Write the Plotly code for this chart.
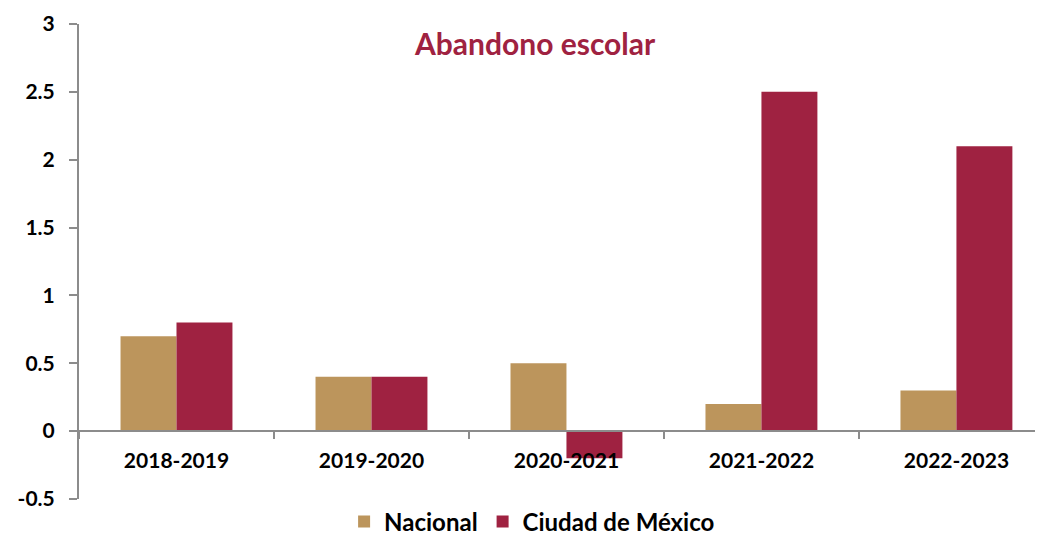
import plotly.graph_objects as go

categories = ["2018-2019", "2019-2020", "2020-2021", "2021-2022", "2022-2023"]
nacional = [0.7, 0.4, 0.5, 0.2, 0.3]
cdmx = [0.8, 0.4, -0.2, 2.5, 2.1]
y_ticks = [-0.5, 0, 0.5, 1, 1.5, 2, 2.5, 3]
y_tick_text = ["-0.5", "0", "0.5", "1", "1.5", "2", "2.5", "3"]

GOLD = "#BC955C"
WINE = "#9F2241"
AXIS = "#8C8C8C"
FONT = "Lato"

fig = go.Figure()
fig.add_trace(go.Bar(name="Nacional", x=categories, y=nacional, marker=dict(color=GOLD, line=dict(width=0))))
fig.add_trace(go.Bar(name="Ciudad de México", x=categories, y=cdmx, marker=dict(color=WINE, line=dict(width=0))))

# page body has an 8px margin, so the figure is sized to fill the rest of the window
fig.update_layout(
    width=1035, height=527,
    margin=dict(l=71, r=0, t=16, b=36, autoexpand=False),
    paper_bgcolor="white", plot_bgcolor="white",
    barmode="group", bargap=0.426, bargroupgap=0,
    font=dict(family=FONT, color="black", size=21),
    showlegend=True,
    legend=dict(orientation="h", x=0.275, xanchor="left", y=-0.048, yanchor="middle",
                font=dict(family=FONT, size=24, color="black", weight="bold"),
                itemwidth=30, traceorder="normal"),
    annotations=[dict(text="<b>Abandono escolar</b>", x=0.473, y=0.96, xref="paper", yref="paper",
                      xanchor="center", yanchor="middle", showarrow=False,
                      font=dict(family=FONT, size=30, color=WINE))],
)
fig.update_xaxes(
    type="category", range=[-0.5, 4.444], anchor="free", position=0.5/3.5,
    showline=True, linecolor=AXIS, linewidth=2,
    ticks="outside", tickson="boundaries", ticklen=7, tickcolor=AXIS, tickwidth=2,
    tickfont=dict(family=FONT, size=21, color="black", weight="bold"),
    showgrid=False, zeroline=False, fixedrange=True, automargin=False,
    ticklabelstandoff=11,
)
fig.update_yaxes(
    range=[-0.5, 3], tickvals=y_ticks, ticktext=y_tick_text,
    showline=True, linecolor=AXIS, linewidth=2,
    ticks="outside", ticklen=8, tickcolor=AXIS, tickwidth=2,
    tickfont=dict(family=FONT, size=21, color="black", weight="bold"),
    showgrid=False, zeroline=False, ticklabelstandoff=10, automargin=False,
)

fig.write_html("out.html")
